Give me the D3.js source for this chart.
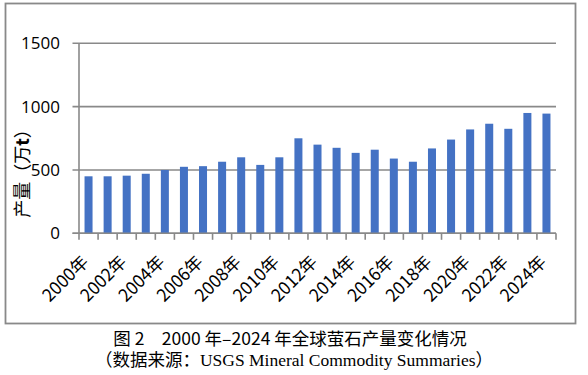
<!DOCTYPE html>
<html>
<head>
<meta charset="utf-8">
<script src="https://cdn.jsdelivr.net/npm/d3@7"></script>
<style>
  body { margin: 0; background: #fff; }
  svg { display: block; }
  text { fill: #000; }
</style>
</head>
<body>
<svg id="chart" width="588" height="375"></svg>
<script>
// years and production (万t)
const years = d3.range(2000, 2025)
const output = [450, 450, 455, 470, 500, 525, 530, 565, 600, 540, 600, 750,
  700, 675, 635, 660, 590, 565, 670, 740, 820, 865, 825, 950, 945]
const yTicks = [0, 500, 1000, 1500]
const caption = '图 2　2000 年–2024 年全球萤石产量变化情况'
const source = '（数据来源：USGS Mineral Commodity Summaries）'

const svg = d3.select('#chart')
const grey = '#898989'
const cjk = '"Noto Sans CJK SC", "Noto Sans", sans-serif'

// outer frame
svg.append('rect')
  .attr('x', 5.5).attr('y', 3.5)
  .attr('width', 570).attr('height', 320)
  .attr('fill', 'none').attr('stroke', grey).attr('stroke-width', 1.8)

const plot = {left: 79, right: 556, top: 43.3, bottom: 233.3}

const x = d3.scaleBand()
  .domain(years)
  .range([plot.left, plot.right])
  .paddingInner(0.58)
  .paddingOuter(0.29)

const y = d3.scaleLinear()
  .domain([0, 1500])
  .range([plot.bottom, plot.top])

// horizontal grid + y ticks
svg.append('g')
  .selectAll('line')
  .data(yTicks)
  .enter()
  .append('line')
  .attr('x1', plot.left - 6.5).attr('x2', plot.right)
  .attr('y1', d => y(d)).attr('y2', d => y(d))
  .attr('stroke', grey).attr('stroke-width', 1.6)

svg.append('g')
  .selectAll('text')
  .data(yTicks)
  .enter()
  .append('text')
  .attr('x', 60)
  .attr('y', d => y(d))
  .attr('dy', '0.35em')
  .attr('text-anchor', 'end')
  .style('font', '17px "Open Sans", "Noto Sans", sans-serif')
  .text(d => d)

// y axis line
svg.append('line')
  .attr('x1', plot.left).attr('x2', plot.left)
  .attr('y1', plot.top).attr('y2', plot.bottom)
  .attr('stroke', grey).attr('stroke-width', 1.6)

// bars
svg.append('g')
  .selectAll('rect')
  .data(years)
  .enter()
  .append('rect')
  .attr('x', d => x(d))
  .attr('width', x.bandwidth())
  .attr('y', (d, i) => y(output[i]))
  .attr('height', (d, i) => y(0) - y(output[i]))
  .attr('fill', '#4472C4')

// baseline redrawn on top + category ticks
svg.append('line')
  .attr('x1', plot.left - 6.5).attr('x2', plot.right)
  .attr('y1', y(0)).attr('y2', y(0))
  .attr('stroke', grey).attr('stroke-width', 1.6)

const step = x.step()
svg.append('g')
  .selectAll('line')
  .data(d3.range(years.length + 1))
  .enter()
  .append('line')
  .attr('x1', i => plot.left + i * step)
  .attr('x2', i => plot.left + i * step)
  .attr('y1', y(0)).attr('y2', y(0) + 6.5)
  .attr('stroke', grey).attr('stroke-width', 1.6)

// x labels, every other year, rotated
svg.append('g')
  .selectAll('text')
  .data(years.filter(d => d % 2 === 0))
  .enter()
  .append('text')
  .attr('transform', d => `translate(${x(d) + x.bandwidth() / 2 + 1},263) rotate(-45)`)
  .attr('text-anchor', 'end')
  .style('font', '17.5px ' + cjk)
  .text(d => d + '年')

// y axis title
const yt = svg.append('text')
  .attr('transform', 'translate(29,169) rotate(-90)')
  .attr('text-anchor', 'middle')
  .style('font', '18px ' + cjk)
yt.append('tspan').text('产量（万')
yt.append('tspan').style('font-weight', 'bold').text('t')
yt.append('tspan').text('）')

// caption
svg.append('text')
  .attr('x', 290).attr('y', 345)
  .attr('text-anchor', 'middle')
  .style('font', '17.5px ' + cjk)
  .text(caption)

svg.append('text')
  .attr('x', 294).attr('y', 366)
  .attr('text-anchor', 'middle')
  .style('font', '17.5px "Liberation Serif", "Noto Sans CJK SC", serif')
  .text(source)
</script>
</body>
</html>
